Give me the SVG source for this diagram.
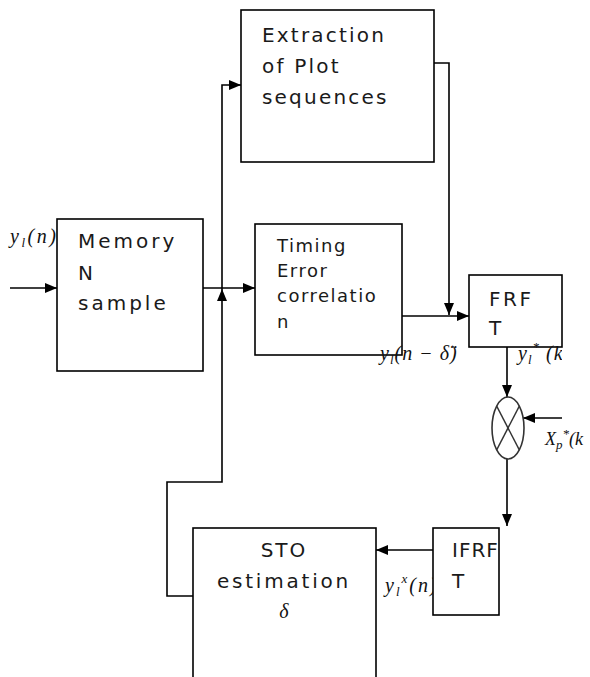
<svg xmlns="http://www.w3.org/2000/svg" width="590" height="677" viewBox="0 0 590 677">
<style>
.box{fill:#fff;stroke:#000;stroke-width:1.6}
.t{font-family:"DejaVu Sans",Verdana,sans-serif;font-size:20px;letter-spacing:2.5px;fill:#1a1a1a}
.ts{font-family:"DejaVu Sans",Verdana,sans-serif;font-size:18px;letter-spacing:1.5px;fill:#1a1a1a}
.c{fill:none;stroke:#000;stroke-width:1.6}
.m{font-family:"Liberation Serif","Times New Roman",serif;font-style:italic;font-size:20px;fill:#111}
.sub{font-size:13px}
</style>
<defs>
<marker id="ah" markerWidth="12" markerHeight="10" refX="12" refY="5" orient="auto" markerUnits="userSpaceOnUse">
<path d="M0,0 L12,5 L0,10 Z" fill="#000"/>
</marker>
<clipPath id="c1"><rect x="0" y="200" width="57" height="60"/></clipPath>
<clipPath id="c3"><rect x="505" y="330" width="57" height="50"/></clipPath>
<clipPath id="c5"><rect x="370" y="560" width="63" height="50"/></clipPath>
</defs>
<g id="connectors">
<line class="c" x1="10" y1="288" x2="57" y2="288" marker-end="url(#ah)"/>
<line class="c" x1="203" y1="288" x2="255" y2="288" marker-end="url(#ah)"/>
<polyline class="c" points="193,596 167,596 167,482 222,482 222,289" marker-end="url(#ah)"/>
<polyline class="c" points="222,289 222,85 241,85" marker-end="url(#ah)"/>
<polyline class="c" points="434,63 449,63 449,315" marker-end="url(#ah)"/>
<line class="c" x1="402" y1="316" x2="469" y2="316" marker-end="url(#ah)"/>
<line class="c" x1="507" y1="347" x2="507" y2="397" marker-end="url(#ah)"/>
<line class="c" x1="562" y1="418" x2="523" y2="418" marker-end="url(#ah)"/>
<line class="c" x1="507" y1="459" x2="507" y2="526" marker-end="url(#ah)"/>
<line class="c" x1="433" y1="550" x2="376" y2="550" marker-end="url(#ah)"/>
</g>
<g id="extraction">
<rect class="box" x="241" y="10" width="193" height="152"/>
<text class="t" x="262" y="42" style="letter-spacing:2.2px">Extraction</text>
<text class="t" x="262" y="73" style="letter-spacing:2.2px">of Plot</text>
<text class="t" x="262" y="104" style="letter-spacing:2.2px">sequences</text>
</g>
<g id="memory">
<rect class="box" x="57" y="219" width="146" height="152"/>
<text class="t" x="78" y="248" style="letter-spacing:3px">Memory</text>
<text class="t" x="78" y="280">N</text>
<text class="t" x="78" y="310" style="letter-spacing:3px">sample</text>
</g>
<g id="timing">
<rect class="box" x="255" y="224" width="147" height="131"/>
<text class="ts" x="277" y="252">Timing</text>
<text class="ts" x="277" y="277">Error</text>
<text class="ts" x="277" y="302">correlatio</text>
<text class="ts" x="277" y="328">n</text>
</g>
<g id="frft">
<rect class="box" x="469" y="275" width="93" height="72"/>
<text class="t" x="489" y="306">FRF</text>
<text class="t" x="489" y="335">T</text>
</g>
<g id="mixer">
<ellipse cx="508" cy="428" rx="16" ry="31" fill="#fff" stroke="#333" stroke-width="1.6"/>
<line x1="496.7" y1="406.1" x2="519.3" y2="449.9" stroke="#333" stroke-width="1.4"/>
<line x1="519.3" y1="406.1" x2="496.7" y2="449.9" stroke="#333" stroke-width="1.4"/>
</g>
<g id="ifrft">
<rect class="box" x="433" y="528" width="66" height="87"/>
<text class="t" x="452" y="557" style="letter-spacing:1px">IFRF</text>
<text class="t" x="452" y="588">T</text>
</g>
<g id="sto">
<rect class="box" x="193" y="528" width="183" height="160"/>
<text class="t" x="284" y="557" text-anchor="middle" style="letter-spacing:2px">STO</text>
<text class="t" x="284" y="588" text-anchor="middle" style="letter-spacing:2.8px">estimation</text>
<text class="m" x="284" y="618" text-anchor="middle">δ</text>
</g>
<g id="labels">
<text class="m" x="10" y="243" clip-path="url(#c1)" style="letter-spacing:2.5px">y<tspan class="sub" dy="4">l</tspan><tspan dy="-4">(n)</tspan></text>
<text class="m" x="380" y="360" style="letter-spacing:1px">y<tspan class="sub" dy="4">l</tspan><tspan dy="-4">(n − δ̈)</tspan></text>
<text class="m" x="518" y="360" clip-path="url(#c3)" style="letter-spacing:1px">y<tspan class="sub" dy="4">l</tspan><tspan class="sub" dy="-13">*</tspan><tspan dy="9"> (k)</tspan></text>
<text class="m" x="545" y="445" style="font-size:18px">X<tspan class="sub" dy="4">p</tspan><tspan class="sub" dy="-11">*</tspan><tspan dy="7">(k</tspan></text>
<text class="m" x="385" y="592" clip-path="url(#c5)" style="letter-spacing:2px">y<tspan class="sub" dy="4">l</tspan><tspan class="sub" dy="-13">x</tspan><tspan dy="9">(n)</tspan></text>
</g>
</svg>
